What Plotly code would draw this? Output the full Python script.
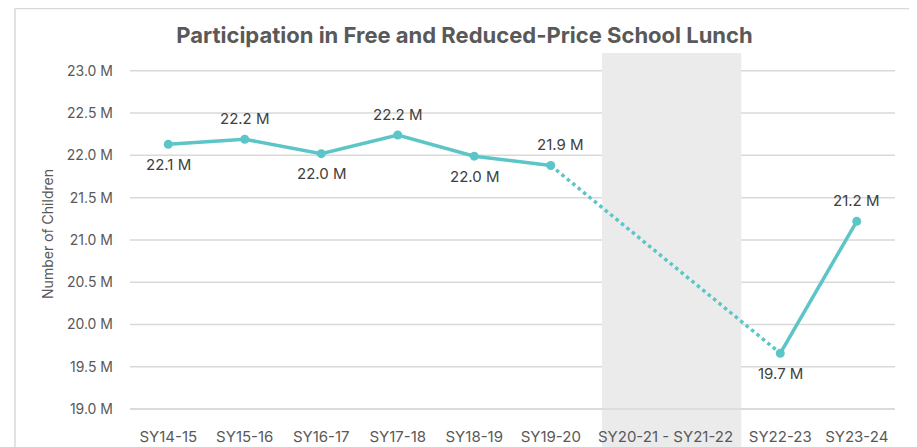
import plotly.graph_objects as go

# ---- data ----
all_periods = ["SY14-15", "SY15-16", "SY16-17", "SY17-18", "SY18-19", "SY19-20",
               "SY20-21", "SY21-22", "SY22-23", "SY23-24"]
categories = ["SY14-15", "SY15-16", "SY16-17", "SY17-18", "SY18-19", "SY19-20",
              "SY22-23", "SY23-24"]
participation_m = [22.13, 22.19, 22.02, 22.24, 21.99, 21.88, 19.66, 21.22]
value_labels = ["22.1 M", "22.2 M", "22.0 M", "22.2 M", "22.0 M", "21.9 M", "19.7 M", "21.2 M"]
label_side = ["below", "above", "below", "above", "below", "above", "below", "above"]
gap_label = "SY20-21 - SY21-22"
gap_periods = ["SY20-21", "SY21-22"]
y_ticks = [19.0, 19.5, 20.0, 20.5, 21.0, 21.5, 22.0, 22.5, 23.0]
y_tick_labels = [f"{v:.1f} M" for v in y_ticks]

# ---- derived positions ----
xpos = [all_periods.index(c) for c in categories]
gap_center = sum(all_periods.index(p) for p in gap_periods) / len(gap_periods)
tickvals = xpos[:6] + [gap_center] + xpos[6:]
ticktext = categories[:6] + [gap_label] + categories[6:]

LINE = "#5CC5C8"
TXT = "#595959"
GRID = "#D9D9D9"
FONT = "Inter"

# page body has an 8px default margin; size the figure to fit the window
W, H = 909, 439
ML, MR, MT, MB = 122, 22, 45, 32
XR = [-0.5, len(all_periods) - 0.5]
YR = [18.93, 23.21]
pw = W - ML - MR
ph = H - MT - MB

fig = go.Figure()

# baseline gridline at the lowest tick, as a trace (drawn first, under the data line)
fig.add_trace(go.Scatter(x=XR, y=[y_ticks[0], y_ticks[0]], mode="lines",
                         line=dict(color=GRID, width=1.5),
                         hoverinfo="skip", showlegend=False, cliponaxis=False))

fig.add_trace(go.Scatter(x=xpos[:6], y=participation_m[:6], mode="lines+markers",
                         line=dict(color=LINE, width=3.5), marker=dict(size=9, color=LINE),
                         hoverinfo="skip", showlegend=False))
fig.add_trace(go.Scatter(x=xpos[5:7], y=participation_m[5:7], mode="lines",
                         line=dict(color=LINE, width=3.5, dash="dot"),
                         hoverinfo="skip", showlegend=False))
fig.add_trace(go.Scatter(x=xpos[6:], y=participation_m[6:], mode="lines+markers",
                         line=dict(color=LINE, width=3.5), marker=dict(size=9, color=LINE),
                         hoverinfo="skip", showlegend=False))

for x, y, t, s in zip(xpos, participation_m, value_labels, label_side):
    fig.add_annotation(x=x, y=y, text=t, showarrow=False,
                       yshift=21 if s == "above" else -20,
                       xshift=10 if t == "21.9 M" else 0,
                       font=dict(family=FONT, size=15, color="#404040"))

# horizontal gridlines at the y ticks
for v in y_ticks:
    fig.add_shape(type="line", xref="paper", yref="y", x0=0, x1=1, y0=v, y1=v,
                  line=dict(color=GRID, width=1.5), layer="between")

def xp(v):
    return (v - XR[0]) / (XR[1] - XR[0])

band_x0, band_x1 = 5.67, 7.49
fig.add_shape(type="rect", xref="paper", yref="paper",
              x0=xp(band_x0), x1=xp(band_x1), y0=-MB / ph, y1=1.0,
              fillcolor="#EBEBEB", line=dict(width=0), layer="between")

# outer chart border
fig.add_shape(type="rect", xref="paper", yref="paper",
              x0=(7 - ML) / pw, x1=(906 - ML) / pw,
              y0=-(MB + 5) / ph, y1=1 + (MT - 0.5) / ph,
              line=dict(color=GRID, width=1.5), fillcolor="rgba(0,0,0,0)", layer="below")

fig.update_layout(
    width=W, height=H,
    margin=dict(l=ML, r=MR, t=MT, b=MB, autoexpand=False),
    paper_bgcolor="white", plot_bgcolor="white",
    title=dict(text="<b>Participation in Free and Reduced-Price School Lunch</b>",
               x=456.5 / W, xanchor="center", y=1 - 27 / H, yanchor="middle",
               font=dict(family=FONT, size=22, color=TXT)),
    font=dict(family=FONT, color=TXT),
    xaxis=dict(range=XR, tickmode="array", tickvals=tickvals, ticktext=ticktext,
               showgrid=False, zeroline=False, showline=False,
               ticks="outside", ticklen=8, tickcolor="rgba(0,0,0,0)",
               tickfont=dict(family=FONT, size=15, color=TXT),
               automargin=False, fixedrange=True),
    yaxis=dict(range=YR, tickmode="array", tickvals=y_ticks, ticktext=y_tick_labels,
               showgrid=False, zeroline=False,
               showline=False, ticks="", ticklabelstandoff=16,
               tickfont=dict(family=FONT, size=14, color=TXT),
               title=dict(text="Number of Children", standoff=9,
                          font=dict(family=FONT, size=14, color=TXT)),
               automargin=False, fixedrange=True),
)

fig.write_html("out.html")
